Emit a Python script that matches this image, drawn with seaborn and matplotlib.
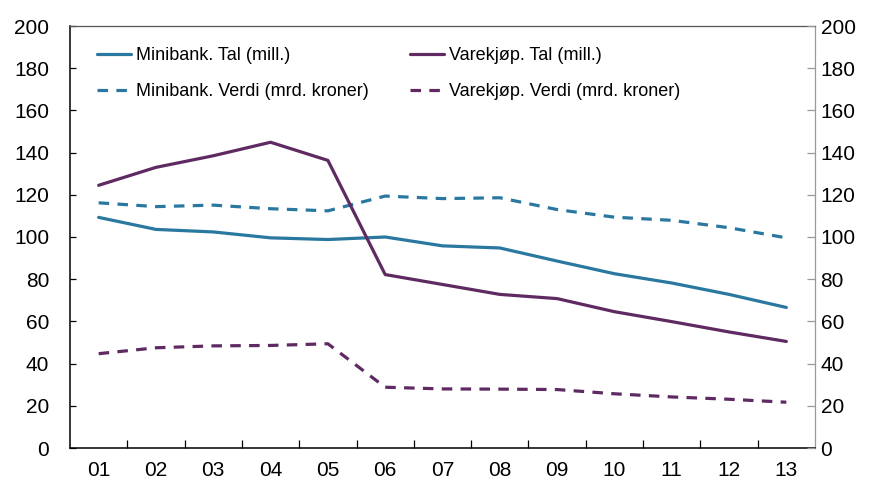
import matplotlib
matplotlib.use("Agg")
import matplotlib.pyplot as plt
import seaborn as sns
import pandas as pd
import numpy as np

categories = ["01", "02", "03", "04", "05", "06", "07", "08", "09", "10", "11", "12", "13"]
minibank_tal = [109.3, 103.6, 102.4, 99.6, 98.8, 100.0, 95.8, 94.8, 88.6, 82.6, 78.2, 72.8, 66.6]
varekjop_tal = [124.5, 133.0, 138.5, 144.9, 136.3, 82.2, 77.5, 72.8, 70.8, 64.6, 59.9, 55.0, 50.5]
minibank_verdi = [116.2, 114.4, 115.1, 113.4, 112.4, 119.4, 118.2, 118.6, 113.0, 109.4, 107.9, 104.4, 99.6]
varekjop_verdi = [44.7, 47.5, 48.4, 48.6, 49.4, 28.8, 28.0, 27.9, 27.7, 25.7, 24.2, 23.1, 21.7]
series_names = ["Minibank. Tal (mill.)", "Minibank. Verdi (mrd. kroner)",
                "Varekjøp. Tal (mill.)", "Varekjøp. Verdi (mrd. kroner)"]
yticks = [0, 20, 40, 60, 80, 100, 120, 140, 160, 180, 200]

BLUE = "#2A78A0"
PURPLE = "#5F2A61"

sns.set_theme(style="white")
plt.rcParams["font.family"] = ["Liberation Sans", "DejaVu Sans"]

rows = []
for name, vals in zip(series_names, [minibank_tal, minibank_verdi, varekjop_tal, varekjop_verdi]):
    for i, v in enumerate(vals):
        rows.append({"pos": i, "value": v, "series": name})
df = pd.DataFrame(rows)

fig = plt.figure(figsize=(8.72, 4.84), dpi=100)
ax = fig.add_axes([70 / 872, 1 - 448 / 484, 745 / 872, 422 / 484])

palette = {series_names[0]: BLUE, series_names[1]: BLUE,
           series_names[2]: PURPLE, series_names[3]: PURPLE}
dashes = {series_names[0]: "", series_names[1]: (3.3, 2.6),
          series_names[2]: "", series_names[3]: (3.3, 2.6)}
sns.lineplot(data=df, x="pos", y="value", hue="series", style="series",
             hue_order=series_names, style_order=series_names,
             palette=palette, dashes=dashes, linewidth=2.3, ax=ax)

ax.set_xlim(-0.5, len(categories) - 0.5)
ax.set_ylim(0, 200)
ax.set_xlabel("")
ax.set_ylabel("")
ax.set_xticks(range(len(categories)))
ax.set_xticklabels(categories)
ax.set_xticks(np.arange(0.5, len(categories) - 1, 1.0), minor=True)
ax.tick_params(axis="x", which="major", length=0, pad=9, labelsize=15, colors="black")
ax.tick_params(axis="x", which="minor", length=5.5, width=0.9, direction="in",
               color="black", bottom=True)
ax.set_yticks(yticks)
ax.tick_params(axis="y", which="major", direction="in", length=4.5, width=0.9,
               color="black", labelsize=15, pad=15, left=True, labelcolor="black")

for side in ["left", "bottom"]:
    ax.spines[side].set_color("black")
    ax.spines[side].set_linewidth(1.1)
ax.spines["top"].set_color("#555555")
ax.spines["top"].set_linewidth(0.9)
ax.spines["right"].set_color("#999999")
ax.spines["right"].set_linewidth(0.9)

ax2 = ax.twinx()
ax2.set_ylim(0, 200)
ax2.set_yticks(yticks)
ax2.tick_params(axis="y", direction="in", length=6, width=0.9, color="#999999",
                labelsize=15, pad=4, labelcolor="black")
for s in ax2.spines.values():
    s.set_visible(False)

handles, labels = ax.get_legend_handles_labels()
leg = ax.legend(handles, labels, ncol=2, frameon=False, loc="upper left",
                bbox_to_anchor=(97 / 872, 1 - 47 / 484), bbox_transform=fig.transFigure,
                borderaxespad=0, borderpad=0, fontsize=13, handlelength=1.9,
                handletextpad=0.25, columnspacing=2.3, labelspacing=1.05)
for t in leg.get_texts():
    t.set_color("black")

fig.savefig("out.png", dpi=100)
